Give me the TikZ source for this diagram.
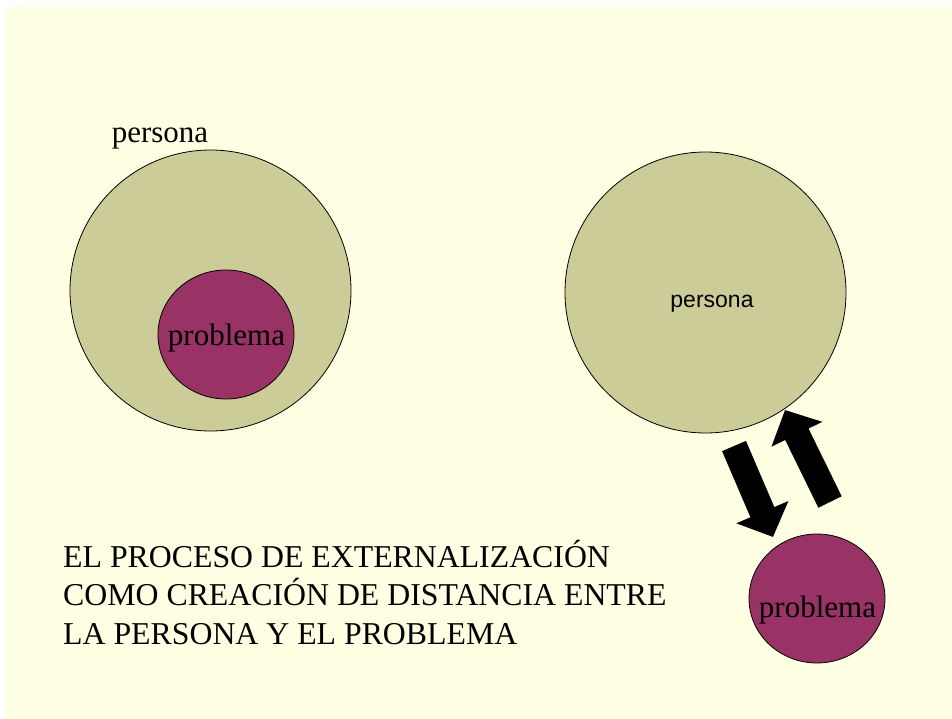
\documentclass[tikz,border=0pt]{standalone}
\usepackage{fontspec}
\setmainfont{Liberation Serif}
\setsansfont{Liberation Sans}
\usetikzlibrary{arrows.meta, positioning, shapes.geometric}

\definecolor{fondo}{HTML}{FFFFE3}
\definecolor{oliva}{HTML}{CCCC99}
\definecolor{granate}{HTML}{993366}

\begin{document}
\begin{tikzpicture}[x=1pt, y=-1pt,
    persona/.style={draw, circle, fill=oliva, line width=0.8pt, minimum size=281pt, inner sep=0pt},
    problema/.style={draw, ellipse, fill=granate, line width=0.8pt, minimum width=136pt, minimum height=129pt, inner sep=0pt},
    texto/.style={font=\fontsize{31}{38.5}\selectfont, inner sep=0pt},
    flecha/.style={line width=26pt, arrows={-Triangle[width=55pt, length=27pt]}}]
    \useasboundingbox (0,0) rectangle (952,719);
    \fill[fondo] (6,7) rectangle (952,719);

    % Nodes
    \node[persona] (persIzq) at (210.5,290.5) {};
    \node[problema] (probIzq) at (226,334.5) {};
    \node[texto, anchor=base] (etPers) at (160,143) {persona};
    \node[texto, anchor=base] (etProbIzq) at (226.5,345) {problema};

    \node[persona] (persDer) at (705.5,292.5) {};
    \node[font=\sffamily\fontsize{23}{28}\selectfont, inner sep=0pt, anchor=base] (etPersDer) at (712,307) {persona};
    \node[problema] (probDer) at (817,598.5) {};
    \node[texto, anchor=base] (etProbDer) at (817.5,617) {problema};

    % the base anchor sits on the last line
    \node[texto, font=\fontsize{31.8}{38.5}\selectfont, anchor=base west, align=left] (titulo) at (63,644)
        {EL PROCESO DE EXTERNALIZACIÓN\\COMO CREACIÓN DE DISTANCIA ENTRE\\LA PERSONA Y EL PROBLEMA};

    % Connections
    \coordinate (bajaIni) at (734,446);
    \coordinate (bajaFin) at (773,537);
    \coordinate (subeIni) at (830,502);
    \coordinate (subeFin) at (785,410);
    \draw[flecha] (bajaIni) -- (bajaFin);
    \draw[flecha] (subeIni) -- (subeFin);
\end{tikzpicture}
\end{document}
